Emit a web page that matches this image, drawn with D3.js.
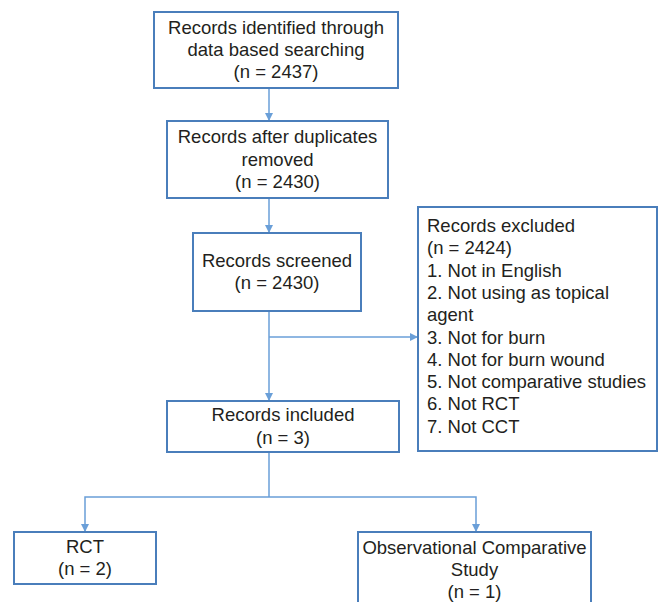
<!DOCTYPE html>
<html>
<head>
<meta charset="utf-8">
<script src="https://cdn.jsdelivr.net/npm/d3@7"></script>
<style>
  body { margin: 0; background: #fff; }
  svg text { font-family: "Liberation Sans", Arial, sans-serif; fill: #231f20; }
</style>
</head>
<body>
<div id="chart"></div>
<script>
// flow chart steps (text + counts)
const stepNames = ["identified", "deduped", "screened", "excluded", "included", "rct", "obs"];
const stepLabels = [
  ["Records identified through", "data based searching"],
  ["Records after duplicates", "removed"],
  ["Records screened"],
  ["Records excluded"],
  ["Records included"],
  ["RCT"],
  ["Observational Comparative", "Study"]
];
const stepCounts = [2437, 2430, 2430, 2424, 3, 2, 1];
const exclusionReasons = [
  "1. Not in English",
  "2. Not using as topical",
  "agent",
  "3. Not for burn",
  "4. Not for burn wound",
  "5. Not comparative studies",
  "6. Not RCT",
  "7. Not CCT"
];

const width = 662, height = 602;
const lineH = 22.3;
const fontSize = 18.5;
const boxColor = "#4a7ebb", arrowColor = "#6a9fd8";

// box layout in pixels
const layout = {
  identified: {x: 154, y: 12, w: 244, h: 76},
  deduped:    {x: 167, y: 121, w: 221, h: 77},
  screened:   {x: 193, y: 233, w: 168, h: 78},
  excluded:   {x: 418, y: 207, w: 239, h: 244, left: true},
  included:   {x: 167, y: 401, w: 232, h: 51},
  rct:        {x: 14, y: 532, w: 142, h: 52},
  obs:        {x: 358, y: 532, w: 233, h: 76}
};

const svg = d3.select("#chart").append("svg")
  .attr("width", width)
  .attr("height", height);

svg.append("defs").append("marker")
  .attr("id", "arrow")
  .attr("viewBox", "0 0 10 10")
  .attr("refX", 10).attr("refY", 5)
  .attr("markerUnits", "userSpaceOnUse")
  .attr("markerWidth", 8).attr("markerHeight", 8)
  .attr("orient", "auto")
  .append("path")
  .attr("d", "M0,0L10,5L0,10Z")
  .attr("fill", arrowColor);

const steps = stepNames.map((name, i) => {
  const lines = stepLabels[i].concat(["(n = " + stepCounts[i] + ")"]);
  return Object.assign({name, lines: name == "excluded" ? lines.concat(exclusionReasons) : lines}, layout[name]);
});

// connectors
const line = d3.line();
const connectors = [
  {pts: [[269, 88], [269, 121]], arrow: true},
  {pts: [[269, 198], [269, 233]], arrow: true},
  {pts: [[269, 311], [269, 401]], arrow: true},
  {pts: [[269, 337], [418, 337]], arrow: true},
  {pts: [[269, 452], [269, 497]], arrow: false},
  {pts: [[269, 497], [85, 497], [85, 532]], arrow: true},
  {pts: [[269, 497], [476, 497], [476, 532]], arrow: true}
];

svg.append("g").selectAll("path")
  .data(connectors)
  .join("path")
  .attr("d", d => line(d.pts))
  .attr("fill", "none")
  .attr("stroke", arrowColor)
  .attr("stroke-width", 1.5)
  .attr("marker-end", d => d.arrow ? "url(#arrow)" : null);

const g = svg.append("g").selectAll("g")
  .data(steps)
  .join("g");

g.append("rect")
  .attr("x", d => d.x).attr("y", d => d.y)
  .attr("width", d => d.w).attr("height", d => d.h)
  .attr("fill", "#fff")
  .attr("stroke", boxColor)
  .attr("stroke-width", 2);

g.each(function(d) {
  const t = d3.select(this).append("text")
    .attr("font-size", fontSize);
  if (d.left) {
    t.selectAll("tspan").data(d.lines).join("tspan")
      .attr("x", d.x + 9)
      .attr("y", (s, i) => 232 + i * lineH)
      .text(s => s);
  } else {
    const cx = d.x + d.w / 2, cy = d.y + d.h / 2;
    const n = d.lines.length;
    t.attr("text-anchor", "middle")
      .selectAll("tspan").data(d.lines).join("tspan")
      .attr("x", cx)
      .attr("y", (s, i) => cy + 6 + (i - (n - 1) / 2) * lineH)
      .text(s => s);
  }
});
</script>
</body>
</html>
